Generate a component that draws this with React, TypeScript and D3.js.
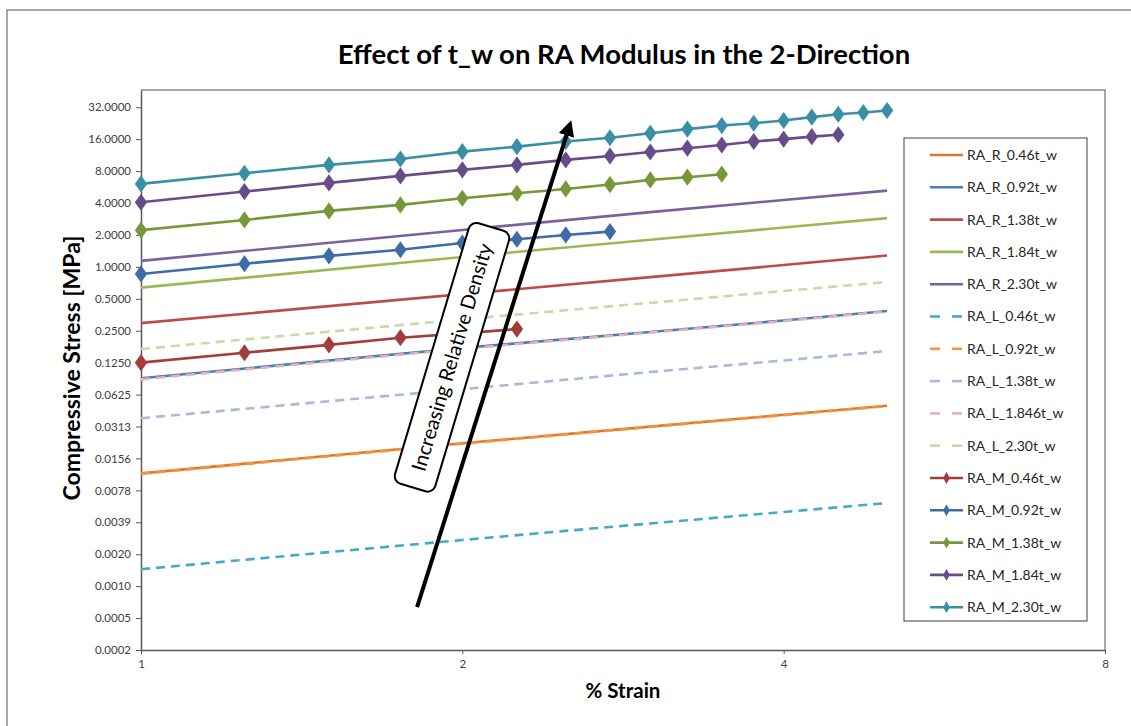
import * as d3 from "d3";
import { useEffect, useRef } from "react";

// strain points (x)
const strainR = [1, 2, 3, 4, 5];
const strainM = [1, 1.25, 1.5, 1.75, 2, 2.25, 2.5, 2.75, 3, 3.25, 3.5, 3.75, 4, 4.25, 4.5, 4.75, 5];

// RA_R series (solid, no markers)
const rR046 = [0.0113, 0.0217, 0.0312, 0.0403, 0.049];
const rR092 = [0.089, 0.172, 0.243, 0.312, 0.384];
const rR138 = [0.295, 0.553, 0.8, 1.04, 1.28];
const rR184 = [0.637, 1.24, 1.8, 2.35, 2.88];
const rR230 = [1.14, 2.23, 3.28, 4.27, 5.24];

// RA_L series (dashed)
const rL046 = [0.00141, 0.00266, 0.00381, 0.00489, 0.00593];
const rL092 = [0.0112, 0.0215, 0.031, 0.04, 0.0487];
const rL138 = [0.0374, 0.0703, 0.102, 0.131, 0.161];
const rL1846 = [0.087, 0.169, 0.24, 0.308, 0.38];
const rL230 = [0.168, 0.32, 0.458, 0.592, 0.721];

// RA_M series (markers), one value per strainM point until the series stops
const rM046 = [0.125, 0.155, 0.184, 0.215, 0.236, 0.259];
const rM092 = [0.858, 1.07, 1.27, 1.45, 1.68, 1.82, 2.0, 2.15];
const rM138 = [2.22, 2.77, 3.37, 3.84, 4.44, 4.95, 5.43, 5.97, 6.61, 7.01, 7.48];
const rM184 = [4.07, 5.13, 6.19, 7.21, 8.22, 9.15, 10.2, 11.1, 12.1, 13.15, 14.1, 15.2, 16.0, 16.9, 17.6];
const rM230 = [6.06, 7.64, 9.15, 10.4, 12.2, 13.6, 15.2, 16.5, 18.2, 19.9, 21.5, 22.6, 24.0, 25.8, 27.5, 28.5, 29.8];

const yTicks = [32, 16, 8, 4, 2, 1, 0.5, 0.25, 0.125, 0.0625, 0.03125, 0.015625, 0.0078125,
  0.00390625, 0.001953125, 0.0009765625, 0.00048828125, 0.000244140625];
const xTicks = [1, 2, 4, 8];

type Series = { name: string; x: number[]; y: number[]; color: string; dash: boolean; marker: boolean };

const series: Series[] = [
  { name: "RA_R_0.46t_w", x: strainR, y: rR046, color: "#E0782C", dash: false, marker: false },
  { name: "RA_R_0.92t_w", x: strainR, y: rR092, color: "#4A7EBB", dash: false, marker: false },
  { name: "RA_R_1.38t_w", x: strainR, y: rR138, color: "#BE4B48", dash: false, marker: false },
  { name: "RA_R_1.84t_w", x: strainR, y: rR184, color: "#98B954", dash: false, marker: false },
  { name: "RA_R_2.30t_w", x: strainR, y: rR230, color: "#7D60A0", dash: false, marker: false },
  { name: "RA_L_0.46t_w", x: strainR, y: rL046, color: "#46AAC5", dash: true, marker: false },
  { name: "RA_L_0.92t_w", x: strainR, y: rL092, color: "#F69240", dash: true, marker: false },
  { name: "RA_L_1.38t_w", x: strainR, y: rL138, color: "#A7B9DC", dash: true, marker: false },
  { name: "RA_L_1.846t_w", x: strainR, y: rL1846, color: "#E2B3B2", dash: true, marker: false },
  { name: "RA_L_2.30t_w", x: strainR, y: rL230, color: "#C9DAA6", dash: true, marker: false },
  { name: "RA_M_0.46t_w", x: strainM, y: rM046, color: "#A33C3A", dash: false, marker: true },
  { name: "RA_M_0.92t_w", x: strainM, y: rM092, color: "#3D6CA8", dash: false, marker: true },
  { name: "RA_M_1.38t_w", x: strainM, y: rM138, color: "#76983A", dash: false, marker: true },
  { name: "RA_M_1.84t_w", x: strainM, y: rM184, color: "#674C8A", dash: false, marker: true },
  { name: "RA_M_2.30t_w", x: strainM, y: rM230, color: "#3A8FA7", dash: false, marker: true },
];

const FONT = "Lato, 'Open Sans', sans-serif";

const App = () => {
  const chartRef = useRef<SVGSVGElement>(null);
  const width = 1131;
  const height = 726;
  // plot area box
  const plot = { left: 141, top: 90, right: 1105, bottom: 650 };

  useEffect(() => {
    const svg = d3.select(chartRef.current);
    svg.selectAll("*").remove();

    const scaleX = d3.scaleLog().base(2).domain([1, 8]).range([plot.left, plot.right]);
    const scaleY = d3.scaleLog().base(2).domain([2 ** -12, 2 ** 5.54]).range([plot.bottom, plot.top]);

    svg.append("rect").attr("width", width).attr("height", height).style("fill", "white");

    // chart frame
    svg.append("path")
      .attr("d", `M7,${height + 5} L7,10 L${width + 5},10`)
      .style("fill", "none").style("stroke", "#8c8c8c").style("stroke-width", 1.5);

    // plot area frame (top and right)
    svg.append("path")
      .attr("d", `M${plot.left},${plot.top} L${plot.right},${plot.top} L${plot.right},${plot.bottom}`)
      .style("fill", "none").style("stroke", "#8c8c8c").style("stroke-width", 1.5);

    // axes
    const yAxis = d3.axisLeft(scaleY).tickValues(yTicks).tickFormat(d => (+d).toFixed(4)).tickSize(5).tickSizeOuter(0);
    const gy = svg.append("g").attr("transform", `translate(${plot.left},0)`).call(yAxis);
    gy.select(".domain").style("stroke", "#595959").style("stroke-width", 1.5);
    gy.selectAll(".tick line").style("stroke", "#595959");
    gy.selectAll("text").style("font-family", FONT).style("font-size", "11.5px").style("fill", "#404040").attr("x", -10);

    const xAxis = d3.axisBottom(scaleX).tickValues(xTicks).tickFormat(d => String(d)).tickSize(4).tickSizeOuter(0);
    const gx = svg.append("g").attr("transform", `translate(0,${plot.bottom})`).call(xAxis);
    gx.select(".domain").style("stroke", "#595959").style("stroke-width", 1.5);
    gx.selectAll(".tick line").style("stroke", "#595959");
    gx.selectAll("text").style("font-family", FONT).style("font-size", "11.5px").style("fill", "#404040").attr("y", 10);

    // series
    const line = d3.line<[number, number]>().x(d => scaleX(d[0])).y(d => scaleY(d[1]));
    const diamond = d3.symbol().type(d3.symbolDiamond).size(85);

    series.forEach(s => {
      const pts: [number, number][] = s.y.map((v, i) => [s.x[i], v]);
      svg.append("path")
        .attr("d", line(pts))
        .style("fill", "none")
        .style("stroke", s.color)
        .style("stroke-width", 2.6)
        .style("stroke-dasharray", s.dash ? "9,6" : null);
      if (s.marker) {
        svg.selectAll(null)
          .data(pts)
          .enter()
          .append("path")
          .attr("d", diamond)
          .attr("transform", d => `translate(${scaleX(d[0])},${scaleY(d[1])}) scale(1.25,1)`)
          .style("fill", s.color);
      }
    });

    // legend
    const lg = svg.append("g");
    lg.append("rect").attr("x", 904).attr("y", 138).attr("width", 183).attr("height", 483)
      .style("fill", "white").style("stroke", "#404040").style("stroke-width", 1);
    series.forEach((s, i) => {
      const ly = 155 + i * 32.3;
      if (s.dash) {
        lg.append("line").attr("x1", 930).attr("x2", 940).attr("y1", ly).attr("y2", ly)
          .style("stroke", s.color).style("stroke-width", 2.6);
        lg.append("line").attr("x1", 952).attr("x2", 962).attr("y1", ly).attr("y2", ly)
          .style("stroke", s.color).style("stroke-width", 2.6);
      } else {
        lg.append("line").attr("x1", 930).attr("x2", 963).attr("y1", ly).attr("y2", ly)
          .style("stroke", s.color).style("stroke-width", 2.6);
      }
      if (s.marker) {
        lg.append("path").attr("d", d3.symbol().type(d3.symbolDiamond).size(40))
          .attr("transform", `translate(946.5,${ly})`).style("fill", s.color);
      }
      lg.append("text").attr("x", 967).attr("y", ly).attr("dy", "0.35em")
        .style("font-family", FONT).style("font-size", "14px").style("fill", "#262626")
        .text(s.name);
    });

    // titles
    svg.append("text").attr("x", 624).attr("y", 64).attr("text-anchor", "middle")
      .style("font-family", FONT).style("font-weight", "bold").style("font-size", "27.5px").style("fill", "#000")
      .text("Effect of t_w on RA Modulus in the 2-Direction");
    svg.append("text").attr("x", 623).attr("y", 698).attr("text-anchor", "middle")
      .style("font-family", FONT).style("font-weight", "bold").style("font-size", "20.5px").style("fill", "#000")
      .text("% Strain");
    svg.append("text").attr("transform", "translate(80,368) rotate(-90)").attr("text-anchor", "middle")
      .style("font-family", FONT).style("font-weight", "bold").style("font-size", "23px").style("fill", "#000")
      .text("Compressive Stress [MPa]");

    // annotation: arrow and label (in data coordinates)
    const arrowFrom: [number, number] = [1.814, 0.000619];
    const arrowTo: [number, number] = [2.533, 25.2];
    svg.append("defs").append("marker")
      .attr("id", "arrowHead").attr("viewBox", "0 0 10 10").attr("refX", 5).attr("refY", 5)
      .attr("markerWidth", 4).attr("markerHeight", 4).attr("orient", "auto")
      .append("path").attr("d", "M0,0 L10,5 L0,10 Z").style("fill", "#000");
    const ax1 = scaleX(arrowFrom[0]), ay1 = scaleY(arrowFrom[1]);
    const ax2 = scaleX(arrowTo[0]), ay2 = scaleY(arrowTo[1]);
    const ang = Math.atan2(ay2 - ay1, ax2 - ax1);
    svg.append("line")
      .attr("x1", ax1).attr("y1", ay1)
      .attr("x2", ax2 - Math.cos(ang) * 10).attr("y2", ay2 - Math.sin(ang) * 10)
      .style("stroke", "#000").style("stroke-width", 4)
      .attr("marker-end", "url(#arrowHead)");

    const labelAt: [number, number] = [1.956, 0.1405];
    const lbl = svg.append("g")
      .attr("transform", `translate(${scaleX(labelAt[0])},${scaleY(labelAt[1])}) rotate(-73.3)`);
    lbl.append("rect").attr("x", -136).attr("y", -21).attr("width", 272).attr("height", 42).attr("rx", 8)
      .style("fill", "white").style("stroke", "#000").style("stroke-width", 2);
    lbl.append("text").attr("text-anchor", "middle").attr("dy", "0.35em")
      .style("font-family", FONT).style("font-size", "20px").style("fill", "#000")
      .text("Increasing Relative Density");
  }, []);

  return (
    <svg ref={chartRef} width={width} height={height}
      style={{ position: "absolute", left: 0, top: 0 }}></svg>
  );
};

export default App;
